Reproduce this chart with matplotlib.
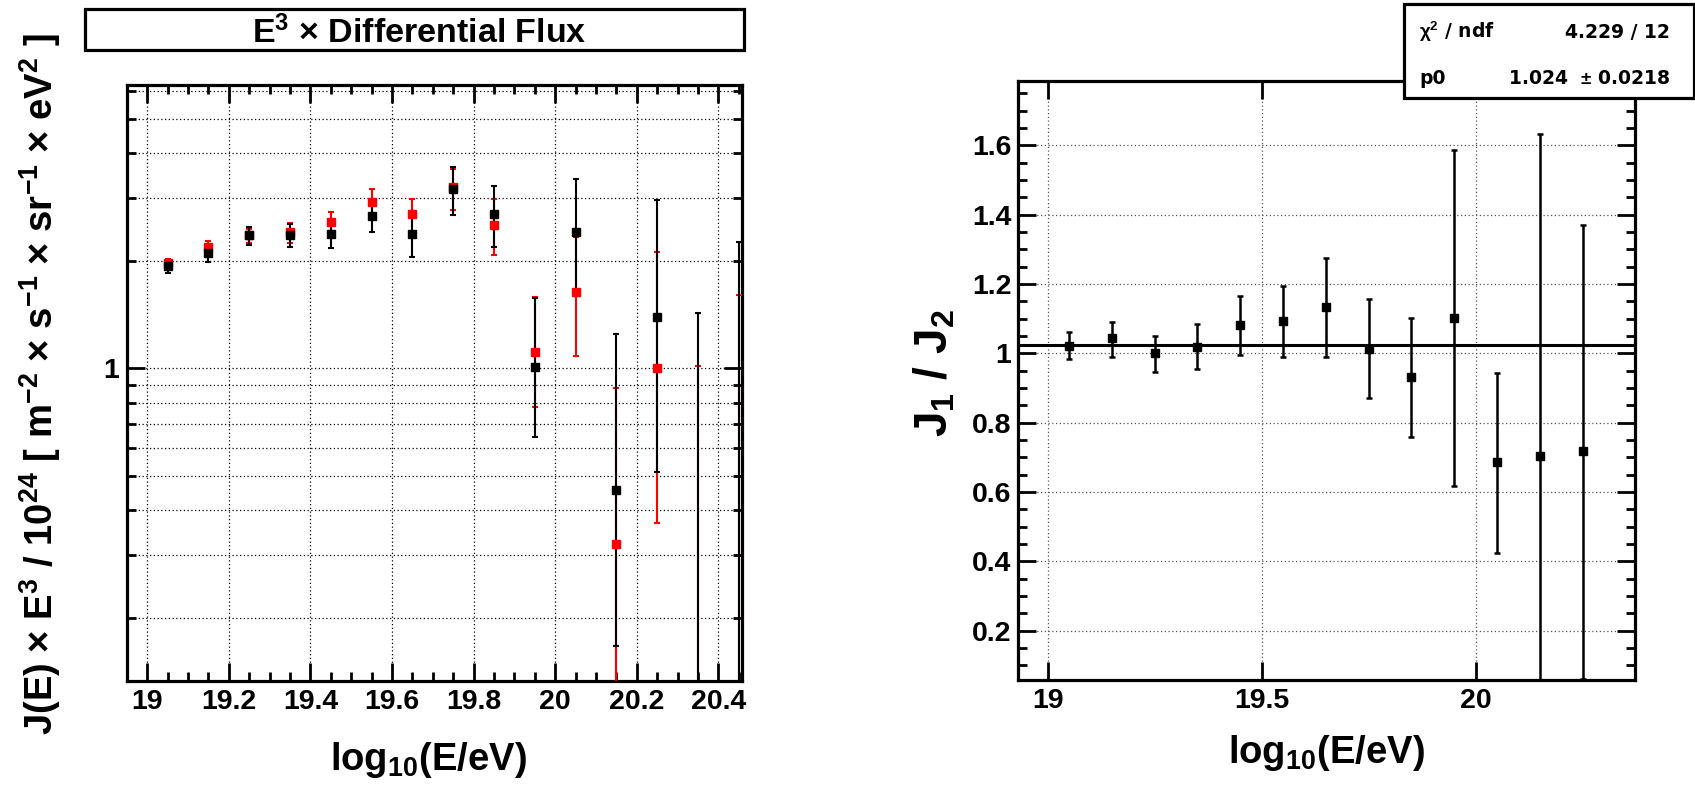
import numpy as np
import matplotlib
matplotlib.use("Agg")
import matplotlib.pyplot as plt
from matplotlib.patches import Rectangle
from matplotlib.ticker import NullFormatter

plt.rcParams['font.family'] = ['Liberation Sans', 'DejaVu Sans']
plt.rcParams['font.weight'] = 'bold'
plt.rcParams['mathtext.fontset'] = 'custom'
plt.rcParams['mathtext.rm'] = 'Liberation Sans:bold'
plt.rcParams['mathtext.bf'] = 'Liberation Sans:bold'
plt.rcParams['mathtext.it'] = 'Liberation Sans:bold'
plt.rcParams['mathtext.default'] = 'bf'

# ---------------------------------------------
# Dados: E^3 x fluxo (unidades de 1e24)
# ---------------------------------------------
log_e = [19.05, 19.15, 19.25, 19.35, 19.45, 19.55, 19.65, 19.75,
         19.85, 19.95, 20.05, 20.15, 20.25, 20.35, 20.45]

# J2 (preto); os dois ultimos pontos ficam abaixo da escala
j2 = [1.93, 2.10, 2.36, 2.37, 2.38, 2.68, 2.38, 3.18,
      2.71, 1.01, 2.41, 0.456, 1.39, 0.02, 0.02]
j2_lo = [1.845, 1.985, 2.22, 2.19, 2.18, 2.41, 2.05, 2.69,
         2.19, 0.643, 1.597, 0.167, 0.513, 0.01, 0.01]
j2_hi = [2.00, 2.19, 2.49, 2.54, 2.59, 2.96, 2.72, 3.66,
         3.25, 1.57, 3.39, 1.25, 2.96, 1.426, 2.26]

# J1 (vermelho)
j1 = [1.97, 2.19, 2.37, 2.41, 2.57, 2.92, 2.70, 3.23,
      2.52, 1.109, 1.64, 0.321, 1.00, 0.02, 0.02]
j1_lo = [1.91, 2.11, 2.24, 2.25, 2.39, 2.69, 2.41, 2.78,
         2.08, 0.78, 1.085, 0.05, 0.368, 0.01, 0.01]
j1_hi = [2.03, 2.27, 2.46, 2.55, 2.75, 3.18, 2.99, 3.62,
         2.98, 1.58, 2.34, 0.879, 2.12, 1.015, 1.61]

# ---------------------------------------------
# Dados: razao J1/J2
# ---------------------------------------------
ratio_e = [19.05, 19.15, 19.25, 19.35, 19.45, 19.55, 19.65,
           19.75, 19.85, 19.95, 20.05, 20.15, 20.25]
ratio = [1.022, 1.043, 1.000, 1.019, 1.082, 1.094, 1.133,
         1.012, 0.933, 1.103, 0.686, 0.705, 0.718]
ratio_lo = [0.983, 0.990, 0.947, 0.955, 0.994, 0.990, 0.988,
            0.870, 0.758, 0.617, 0.423, 0.0, 0.061]
ratio_hi = [1.061, 1.090, 1.050, 1.085, 1.165, 1.195, 1.276,
            1.157, 1.103, 1.586, 0.942, 1.632, 1.370]
p0 = 1.024
stats_rows = [(r'$\chi^{2}$ / ndf', '4.229 / 12'),
              ('p0', r'1.024  $\pm$ 0.0218')]

flux_xticks = [19.0, 19.2, 19.4, 19.6, 19.8, 20.0, 20.2, 20.4]
flux_xlabels = ['19', '19.2', '19.4', '19.6', '19.8', '20', '20.2', '20.4']
ratio_xticks = [19.0, 19.5, 20.0]
ratio_xlabels = ['19', '19.5', '20']
ratio_yticks = [0.2, 0.4, 0.6, 0.8, 1.0, 1.2, 1.4, 1.6]
ratio_ylabels = ['0.2', '0.4', '0.6', '0.8', '1', '1.2', '1.4', '1.6']

W, H = 1695, 789
fig = plt.figure(figsize=(W / 100, H / 100), dpi=100)


def fx(px):
    return px / W


def fy(py):
    return 1 - py / H


grid_kw = dict(color='black', linestyle=(0, (1, 2)), linewidth=0.9)


def estilo(ax):
    for s in ax.spines.values():
        s.set_linewidth(2.3)
    ax.tick_params(which='both', direction='in', top=True, right=True,
                   width=2.0, labelsize=20.5)
    ax.tick_params(which='major', length=13)
    ax.tick_params(which='minor', length=6.5)


# ---------------------------------------------
# Painel esquerdo
# ---------------------------------------------
ax1 = fig.add_axes([fx(126.7), fy(680.7), fx(741.7 - 126.7), (680.7 - 85) / H])
ax1.set_yscale('log')

e = np.array(log_e)
for val, lo, hi, cor in [(j1, j1_lo, j1_hi, 'red'), (j2, j2_lo, j2_hi, 'black')]:
    v, l, h = np.array(val), np.array(lo), np.array(hi)
    ax1.errorbar(e, v, yerr=[v - l, h - v], fmt='s', color=cor, mec=cor,
                 ms=6.0, elinewidth=1.5, capsize=2.0, capthick=1.5, zorder=3)

ax1.set_xlim(18.951, 20.457)
ax1.set_ylim(0.1333, 6.22)
ax1.set_xticks(flux_xticks)
ax1.set_xticklabels(flux_xlabels)
ax1.set_xticks(np.arange(18.95, 20.46, 0.05), minor=True)
ax1.set_yticks([1.0])
ax1.set_yticklabels(['1'])
ax1.set_yticks([0.2, 0.3, 0.4, 0.5, 0.6, 0.7, 0.8, 0.9, 2, 3, 4, 5, 6], minor=True)
ax1.yaxis.set_minor_formatter(NullFormatter())
ax1.xaxis.grid(True, which='major', **grid_kw)
ax1.yaxis.grid(True, which='both', **grid_kw)
estilo(ax1)
ax1.tick_params(axis='x', pad=6.0)
ax1.tick_params(axis='y', pad=5.5)

# ---------------------------------------------
# Painel direito
# ---------------------------------------------
ax2 = fig.add_axes([fx(1017.7), fy(680), fx(1635.3 - 1017.7), (680 - 80.7) / H])
r, rl, rh = np.array(ratio), np.array(ratio_lo), np.array(ratio_hi)
ax2.errorbar(ratio_e, r, yerr=[r - rl, rh - r], fmt='s', color='black',
             ms=6.0, elinewidth=1.8, capsize=2.0, capthick=1.8, zorder=3)
ax2.axhline(p0, color='black', lw=2.2, zorder=4)
ax2.set_xlim(18.930, 20.373)
ax2.set_ylim(0.058, 1.786)
ax2.set_xticks(ratio_xticks)
ax2.set_xticklabels(ratio_xlabels)
ax2.set_yticks(ratio_yticks)
ax2.set_yticklabels(ratio_ylabels)
ax2.set_yticks(np.arange(0.1, 1.76, 0.05), minor=True)
ax2.grid(True, which='major', color='#555555', linestyle=(0, (1, 2)), linewidth=0.9)
estilo(ax2)
ax2.tick_params(axis='x', pad=6.0)
ax2.tick_params(axis='y', pad=4.5)

# ---------------------------------------------
# Textos
# ---------------------------------------------
fig.patches.append(Rectangle((fx(85), fy(50)), fx(744 - 85), 41 / H,
                             transform=fig.transFigure, facecolor='white',
                             edgecolor='black', lw=2.3))
fig.text(fx(419), fy(43.3), r'E$^{3}$ $\times$ Differential Flux',
         ha='center', va='baseline', fontsize=24.5)

ylab1 = (r'J(E) $\times$ E$^{3}$ / 10$^{24}$ [ m$^{-2}$ $\times$ s$^{-1}$'
         r' $\times$ sr$^{-1}$ $\times$ eV$^{2}$ ]')
fig.text(fx(40), fy(384), ylab1, rotation=90, ha='center', va='center',
         fontsize=27.5)
fig.text(fx(428), fy(770), r'log$_{10}$(E/eV)', ha='center', va='baseline',
         fontsize=27.5)
fig.text(fx(1326.5), fy(763), r'log$_{10}$(E/eV)', ha='center', va='baseline',
         fontsize=27.5)
fig.text(fx(935), fy(373), r'J$_{1}$ / J$_{2}$', rotation=90, ha='center',
         va='center', fontsize=33)

fig.patches.append(Rectangle((fx(1404), fy(98.3)), fx(1694 - 1404), 94.3 / H,
                             transform=fig.transFigure, facecolor='white',
                             edgecolor='black', lw=2.3, zorder=5))
for (nome, valor), base in zip(stats_rows, [37.5, 84.0]):
    fig.text(fx(1419), fy(base), nome, ha='left', va='baseline',
             fontsize=13.5, family='DejaVu Sans', zorder=6)
    fig.text(fx(1670), fy(base), valor, ha='right', va='baseline',
             fontsize=13.5, family='DejaVu Sans', zorder=6)

fig.savefig('out.png', dpi=100)
